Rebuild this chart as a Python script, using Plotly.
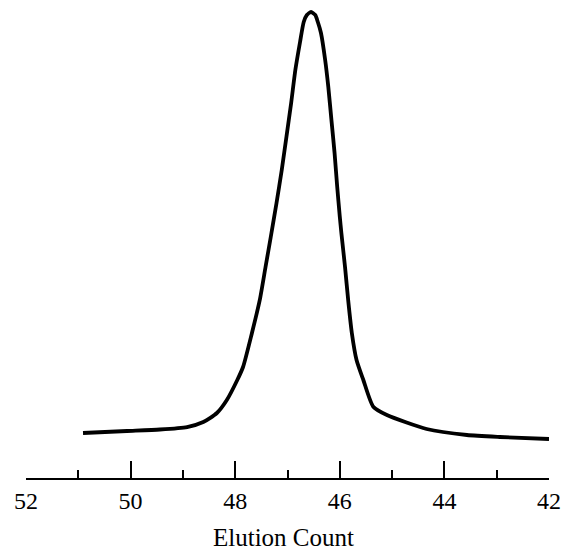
import plotly.graph_objects as go

# Elution count (x) and relative detector response (y)
elution = [50.91, 50.07, 49.44, 48.92, 48.61, 48.35, 48.16, 47.96, 47.85, 47.68,
           47.53, 47.42, 47.32, 47.21, 47.11, 47.02, 46.93, 46.85, 46.76, 46.69,
           46.63, 46.55, 46.47, 46.42, 46.36, 46.28, 46.22, 46.16, 46.10, 46.05,
           46.00, 45.97, 45.90, 45.84, 45.77, 45.68, 45.55, 45.36, 45.10,
           44.34, 43.57, 42.94, 42.00]
response = [9.66, 10.09, 10.41, 10.94, 12.02, 13.95, 16.74, 21.03, 23.82, 31.12,
            38.20, 45.28, 51.72, 59.01, 66.09, 73.24, 80.47, 87.55, 93.56, 97.85,
            99.36, 100.0, 99.36, 97.85, 95.49, 89.70, 83.97, 76.82, 69.74, 62.51,
            56.07, 52.58, 45.28, 38.20, 31.12, 25.32, 21.03, 15.30, 13.52,
            10.52, 9.23, 8.80, 8.37]

major_ticks = [52, 50, 48, 46, 44, 42]
major_labels = ["52", "50", "48", "46", "44", "42"]
x_title = "Elution Count"

SERIF = "Liberation Serif, Times New Roman, serif"

fig = go.Figure()
fig.add_trace(go.Scatter(
    x=elution, y=response, mode="lines",
    line=dict(color="black", width=3.8, shape="spline", smoothing=0.6),
    hoverinfo="skip", showlegend=False,
))

fig.update_layout(
    width=566, height=558,
    margin=dict(l=26, r=17, t=5, b=80),
    paper_bgcolor="white", plot_bgcolor="white",
    showlegend=False,
    xaxis=dict(
        range=[52, 42], showgrid=False, zeroline=False, automargin=False,
        showline=True, linecolor="black", linewidth=1.5,
        tickmode="array", tickvals=major_ticks, ticktext=major_labels,
        ticks="inside", ticklen=17, tickwidth=1.5, tickcolor="black",
        ticklabelstandoff=0,
        tickfont=dict(family=SERIF, size=24, color="black"),
        minor=dict(dtick=1, tick0=42, ticks="inside", ticklen=8,
                   tickwidth=1.5, tickcolor="black", showgrid=False),
    ),
    yaxis=dict(range=[0, 101.5], visible=False, showgrid=False, zeroline=False),
    annotations=[dict(
        text=x_title, xref="paper", yref="paper", x=0.493, y=-0.125,
        xanchor="center", yanchor="middle", showarrow=False,
        font=dict(family=SERIF, size=25, color="black"),
    )],
)

fig.write_html("out.html", config={"displayModeBar": False},
               post_script="document.body.style.margin='0';")
